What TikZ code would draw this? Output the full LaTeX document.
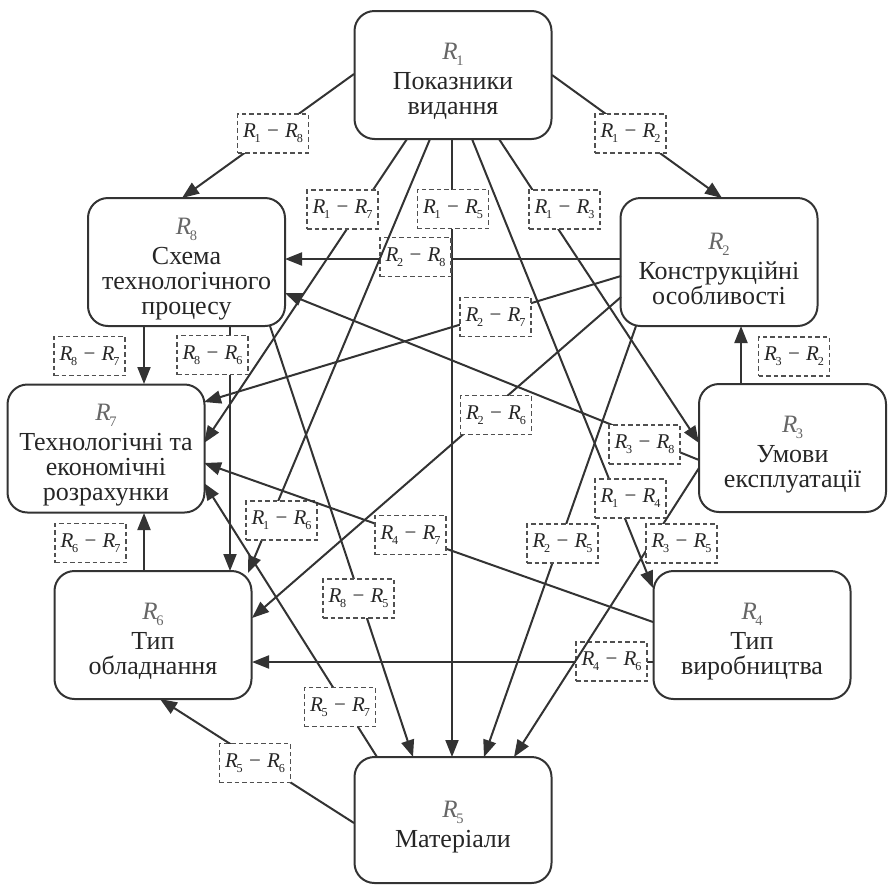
\documentclass[tikz,border=0pt]{standalone}
\usepackage{fontspec}
\usepackage{graphicx}
\setmainfont{Liberation Serif}
\usetikzlibrary{arrows.meta,calc}
\definecolor{ink}{HTML}{333333}
\definecolor{txt}{HTML}{262626}
\definecolor{lbl}{HTML}{666666}
\definecolor{dsh}{HTML}{505050}
\newcommand\RR[1]{\textit{R}\kern-0.06em\raisebox{-0.24em}{\scalebox{0.58}{#1}}}
\newcommand\ED[2]{\RR{#1}\hspace{0.3em}−\hspace{0.3em}\RR{#2}}
\newcommand\HD[1]{{\color{lbl}\fontsize{25}{25}\selectfont\rule{0pt}{30pt}\RR{#1}}\\[5pt]}
\begin{document}
\begin{tikzpicture}[x=1pt,y=-1pt,
  box/.style={draw=ink, line width=2pt, rounded corners=20pt, minimum width=197pt,
    minimum height=128pt, align=center, inner sep=0pt,
    font=\fontsize{26}{25}\selectfont, text=txt},
  lab/.style={draw=dsh, dash pattern=on 4.5pt off 3pt, line width=1.4pt, fill=white,
    minimum width=71pt, minimum height=39pt, inner sep=0pt,
    font=\fontsize{21}{21}\selectfont, text=txt},
  arr/.style={draw=ink, line width=2pt, -{Triangle[length=17pt,width=13pt]}}]
\useasboundingbox (0,0) rectangle (888,884);

\node[box] (r1) at (453,75) {\HD{1}Показники\\видання};
\node[box] (r8) at (186.5,262) {\HD{8}Схема\\технологічного\\процесу};
\node[box] (r2) at (719,262) {\HD{2}Конструкційні\\особливості};
\node[box] (r7) at (106,448.5) {\HD{7}Технологічні та\\економічні\\розрахунки};
\node[box, minimum width=187pt] (r3) at (792.5,448) {\HD{3}Умови\\експлуатації};
\node[box] (r6) at (153,635) {\HD{6}Тип\\обладнання};
\node[box] (r4) at (752,635) {\HD{4}Тип\\виробництва};
\node[box, minimum height=126pt] (r5) at (453,820) {\HD{5}Матеріали};

% R1 edges
\draw[arr] ($(r1)+(-99,-1)$) -- ($(r8)+(-4.5,-64)$);
\node[lab] (l18) at (273,133.5) {\ED{1}{8}};
\draw[arr] ($(r1)+(99,0)$) -- ($(r2)+(3,-64)$);
\node[lab] (l12) at (630.5,133.5) {\ED{1}{2}};
\draw[arr] ($(r1)+(-46,64)$) -- ($(r7)+(98,-5.5)$);
\node[lab] (l17) at (342.5,209.5) {\ED{1}{7}};
\draw[arr] ($(r1)+(-1,64)$) -- ($(r5)+(-1,-63)$);
\node[lab] (l15) at (453,209) {\ED{1}{5}};
\draw[arr] ($(r1)+(46,64)$) -- ($(r3)+(-93.5,-5)$);
\node[lab] (l13) at (564.5,209.5) {\ED{1}{3}};
\draw[arr] ($(r1)+(19,64)$) -- ($(r4)+(-99,-47)$);
\node[lab] (l14) at (630.5,498.5) {\ED{1}{4}};

% R2 edges
\draw[arr] ($(r2)+(-98,-3)$) -- ($(r8)+(98.5,-3)$);
\node[lab] (l28) at (415.5,257) {\ED{2}{8}};
\draw[arr] ($(r2)+(-98,14)$) -- ($(r7)+(98,-46.5)$);
\node[lab] (l27) at (495.5,317) {\ED{2}{7}};
\draw[arr] ($(r2)+(-98,35)$) -- ($(r6)+(99,-17)$);
\node[lab] (l26) at (496,415) {\ED{2}{6}};
\draw[arr] ($(r2)+(-83,64)$) -- ($(r5)+(31,-63)$);
\node[lab] (l25) at (562.5,543.5) {\ED{2}{5}};

% R1 -> R6 (drawn over R2-R8 label)
\draw[arr] ($(r1)+(-23,64)$) -- ($(r6)+(95,-62)$);
\node[lab] (l16) at (281.5,520.5) {\ED{1}{6}};

% R3 edges
\draw[arr] ($(r3)+(-51.5,-64)$) -- ($(r2)+(22,64)$);
\node[lab] (l32) at (794,356.5) {\ED{3}{2}};
\draw[arr] ($(r3)+(-93.5,12)$) -- ($(r8)+(98.5,31)$);
\node[lab] (l38) at (644.5,444.5) {\ED{3}{8}};

% R4 edges
\draw[arr] ($(r4)+(-99,-13)$) -- ($(r7)+(98,14.5)$);
\node[lab] (l47) at (410.5,535) {\ED{4}{7}};
\draw[arr] ($(r4)+(-99,27)$) -- ($(r6)+(99,27)$);
\node[lab] (l46) at (611.5,661.5) {\ED{4}{6}};

% R3 -> R5 (drawn over R4-R6 label)
\draw[arr] ($(r3)+(-93.5,20)$) -- ($(r5)+(61,-63)$);
\node[lab] (l35) at (681.5,543.5) {\ED{3}{5}};

% R5 edges
\draw[arr] ($(r5)+(-99,3)$) -- ($(r6)+(7,64)$);
\node[lab] (l56) at (255,763) {\ED{5}{6}};
\draw[arr] ($(r5)+(-76,-63)$) -- ($(r7)+(98,34.5)$);
\node[lab] (l57) at (340,707) {\ED{5}{7}};

% R8 edges
\draw[arr] ($(r8)+(-42.5,64)$) -- ($(r7)+(38,-64.5)$);
\node[lab] (l87) at (89.5,356) {\ED{8}{7}};
\draw[arr] ($(r8)+(43.5,64)$) -- ($(r6)+(77,-64)$);
\node[lab] (l86) at (212.5,355) {\ED{8}{6}};
\draw[arr] ($(r8)+(83.5,64)$) -- ($(r5)+(-40,-63)$);
\node[lab] (l85) at (358.5,598.5) {\ED{8}{5}};

% R6 edge
\draw[arr] ($(r6)+(-9,-64)$) -- ($(r7)+(38,64.5)$);
\node[lab] (l67) at (90.5,543) {\ED{6}{7}};
\end{tikzpicture}
\end{document}
